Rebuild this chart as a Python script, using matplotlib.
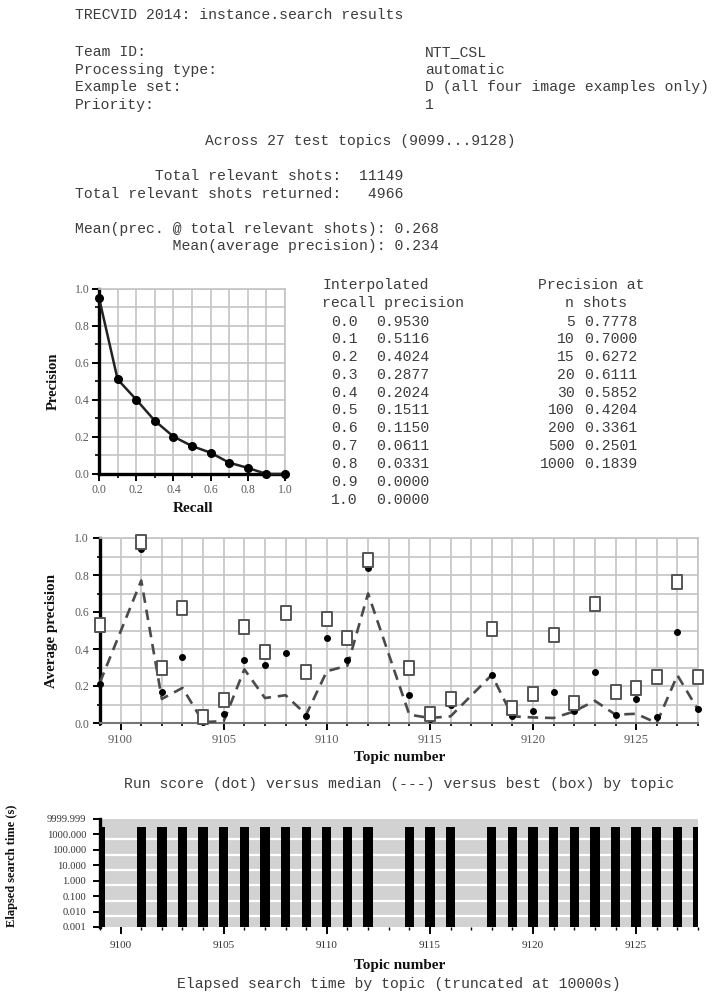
import matplotlib
matplotlib.use('Agg')
import matplotlib.pyplot as plt
from matplotlib.ticker import MultipleLocator, FixedLocator, FuncFormatter
from matplotlib.path import Path

# ---------------- data ----------------
header_labels = ["Team ID:", "Processing type:", "Example set:", "Priority:"]
header_values = ["NTT_CSL", "automatic", "D (all four image examples only)", "1"]

recall_levels = [0.0, 0.1, 0.2, 0.3, 0.4, 0.5, 0.6, 0.7, 0.8, 0.9, 1.0]
interp_precision = [0.9530, 0.5116, 0.4024, 0.2877, 0.2024, 0.1511, 0.1150, 0.0611, 0.0331, 0.0000, 0.0000]

n_shots = [5, 10, 15, 20, 30, 100, 200, 500, 1000]
prec_at_n = [0.7778, 0.7000, 0.6272, 0.6111, 0.5852, 0.4204, 0.3361, 0.2501, 0.1839]

topics = [9099, 9101, 9102, 9103, 9104, 9105, 9106, 9107, 9108, 9109, 9110, 9111, 9112,
          9114, 9115, 9116, 9118, 9119, 9120, 9121, 9122, 9123, 9124, 9125, 9126, 9127, 9128]
run_ap = [0.21, 0.94, 0.17, 0.355, 0.005, 0.05, 0.34, 0.315, 0.38, 0.04, 0.46, 0.34, 0.84,
          0.15, 0.023, 0.10, 0.26, 0.036, 0.063, 0.168, 0.063, 0.276, 0.045, 0.13, 0.032, 0.49, 0.077]
median_ap = [0.22, 0.77, 0.13, 0.19, 0.005, 0.01, 0.29, 0.135, 0.15, 0.045, 0.28, 0.31, 0.70,
             0.045, 0.027, 0.036, 0.26, 0.036, 0.03, 0.027, 0.063, 0.12, 0.045, 0.05, 0.0, 0.258, 0.072]
best_ap = [0.53, 0.98, 0.30, 0.62, 0.03, 0.125, 0.52, 0.385, 0.595, 0.275, 0.56, 0.46, 0.88,
           0.30, 0.05, 0.13, 0.51, 0.08, 0.157, 0.477, 0.108, 0.645, 0.17, 0.19, 0.25, 0.762, 0.247]
elapsed_s = [3000, 3000, 3000, 3000, 3000, 3000, 3000, 3000, 3000, 3000, 3000, 3000, 3000,
             3000, 3000, 3000, 3000, 3000, 3000, 3000, 3000, 3000, 3000, 3000, 3000, 3000, 3000]
time_ticks = [0.001, 0.01, 0.1, 1, 10, 100, 1000, 9999.999]

# ---------------- figure ----------------
W, H = 713, 998
fig = plt.figure(figsize=(W / 100, H / 100), dpi=100)
MONO = 'Liberation Mono'
SERIF = 'Liberation Serif'
TXT = '#3c3c3c'
GRID = '#c4c4c4'
FS = 10.6


def mtext(x, y, s, ha='left', **kw):
    fig.text(x / W, 1 - y / H, s, family=MONO, fontsize=FS, color=TXT, va='center', ha=ha, **kw)


def ax_at(left, top, right, bottom):
    return fig.add_axes([left / W, 1 - bottom / H, (right - left) / W, (bottom - top) / H])


# header
mtext(75, 15, "TRECVID 2014: instance.search results")
y0 = 52
for i, (lab, val) in enumerate(zip(header_labels, header_values)):
    mtext(75, y0 + i * 17.7, lab)
    mtext(425, y0 + i * 17.7, val)
mtext(205, 141, "Across 27 test topics (9099...9128)")
mtext(75, 176, "         Total relevant shots:  11149")
mtext(75, 194, "Total relevant shots returned:   4966")
mtext(75, 229, "Mean(prec. @ total relevant shots): 0.268")
mtext(75, 246, "           Mean(average precision): 0.234")

# tables
mtext(322, 285, "Interpolated")
mtext(322, 303, "recall precision")
for i, (r, p) in enumerate(zip(recall_levels, interp_precision)):
    yy = 321.5 + i * 17.8
    mtext(331, yy, f"{r:.1f}")
    mtext(376, yy, f"{p:.4f}")
mtext(538, 285, "Precision at")
mtext(565, 303, "n shots")
for i, (n, p) in enumerate(zip(n_shots, prec_at_n)):
    yy = 321.5 + i * 17.8
    mtext(575, yy, f"{n}", ha='right')
    mtext(584, yy, f"{p:.4f}")


def style_axes(ax, lsize=8.5):
    ax.set_facecolor('white')
    for s in ['top', 'right']:
        ax.spines[s].set_color(GRID)
        ax.spines[s].set_linewidth(1.2)
    ax.spines['left'].set_color('black')
    ax.spines['left'].set_linewidth(2.4)
    ax.tick_params(which='both', direction='out', colors='black', labelcolor='#5a5a5a',
                   labelsize=lsize)
    for lab in ax.get_xticklabels() + ax.get_yticklabels():
        lab.set_family(SERIF)


def label(x, y, s, size, rot=0):
    fig.text(x / W, 1 - y / H, s, family=SERIF, fontweight='bold', fontsize=size,
             rotation=rot, ha='center', va='center', color='#111111')


# ---------------- PR curve ----------------
ax1 = ax_at(99, 289, 285, 474)
ax1.plot(recall_levels, interp_precision, color='#222222', lw=1.8, marker='o', ms=5.5,
         mfc='black', mec='black', clip_on=False, zorder=5)
ax1.set_xlim(0, 1)
ax1.set_ylim(0, 1)
ax1.xaxis.set_major_locator(MultipleLocator(0.2))
ax1.xaxis.set_minor_locator(MultipleLocator(0.1))
ax1.yaxis.set_major_locator(MultipleLocator(0.2))
ax1.yaxis.set_minor_locator(MultipleLocator(0.1))
ax1.xaxis.set_major_formatter(FuncFormatter(lambda v, p: f"{v:.1f}"))
ax1.yaxis.set_major_formatter(FuncFormatter(lambda v, p: f"{v:.1f}"))
ax1.grid(True, which='both', color=GRID, lw=1.2)
ax1.set_axisbelow(True)
style_axes(ax1, 8.5)
ax1.spines['bottom'].set_color('black')
ax1.spines['bottom'].set_linewidth(2.4)
ax1.tick_params(which='major', length=5, width=1.4, pad=2)
ax1.tick_params(which='minor', length=3, width=1.2)
label(53, 381, "Precision", 10.5, 90)
label(193, 509, "Recall", 11)

# ---------------- Average precision by topic ----------------
ax2 = ax_at(100, 538, 698, 723)
ax2.set_xlim(9099, 9128)
ax2.set_ylim(0, 1)
ax2.xaxis.set_major_locator(FixedLocator([9100, 9105, 9110, 9115, 9120, 9125]))
ax2.xaxis.set_minor_locator(MultipleLocator(1))
ax2.yaxis.set_major_locator(MultipleLocator(0.2))
ax2.yaxis.set_minor_locator(MultipleLocator(0.1))
ax2.yaxis.set_major_formatter(FuncFormatter(lambda v, p: f"{v:.1f}"))
ax2.grid(True, which='both', color=GRID, lw=1.2)
ax2.set_axisbelow(True)
style_axes(ax2, 8.5)
ax2.tick_params(axis='x', labelsize=9)
ax2.spines['bottom'].set_color('#777777')
ax2.spines['bottom'].set_linewidth(1.5)
ax2.tick_params(which='major', length=5, width=1.4, pad=3)
ax2.tick_params(which='minor', length=2.5, width=1.2)
ax2.plot(topics, median_ap, color='#4a4a4a', lw=1.9, ls=(0, (4, 2.6)), zorder=3, clip_on=False)
ax2.plot(topics, run_ap, ls='none', marker='o', ms=4, mfc='black', mec='black', zorder=4,
         clip_on=False)
box = Path([(-0.38, -0.5), (0.38, -0.5), (0.38, 0.5), (-0.38, 0.5), (-0.38, -0.5)],
           [Path.MOVETO, Path.LINETO, Path.LINETO, Path.LINETO, Path.CLOSEPOLY])
ax2.plot(topics, best_ap, ls='none', marker=box, ms=9.5, mfc='white', mec='#555555', mew=1.4,
         zorder=5, clip_on=False)
label(52, 631, "Average precision", 10.8, 90)
label(400, 757, "Topic number", 11)
mtext(399, 784, "Run score (dot) versus median (---) versus best (box) by topic", ha='center')

# ---------------- Elapsed time ----------------
ax3 = ax_at(100, 819, 698, 927)
ax3.set_facecolor('#d2d2d2')
ax3.set_yscale('log')
ax3.set_ylim(0.001, 9999.999)
ax3.set_xlim(9099, 9128)
for k in range(-3, 4):
    ax3.axhline(0.5 * 10 ** k, color='white', lw=1.6, zorder=1)
ax3.bar(topics, elapsed_s, width=0.45, bottom=0.001, color='black', zorder=3)
ax3.yaxis.set_major_locator(FixedLocator(time_ticks))
ax3.yaxis.set_minor_locator(FixedLocator([]))
ax3.yaxis.set_major_formatter(FuncFormatter(lambda v, p: f"{v:.3f}"))
ax3.xaxis.set_major_locator(FixedLocator([9100, 9105, 9110, 9115, 9120, 9125]))
ax3.xaxis.set_minor_locator(MultipleLocator(1))
for s in ['top', 'right', 'bottom']:
    ax3.spines[s].set_visible(False)
ax3.spines['left'].set_color('black')
ax3.spines['left'].set_linewidth(2.4)
ax3.tick_params(which='both', direction='out', colors='black', labelcolor='#333333',
                labelsize=8)
ax3.tick_params(axis='y', labelsize=7.6)
ax3.tick_params(which='major', length=5, width=1.4, pad=5)
ax3.tick_params(which='minor', length=2, width=1.0)
for lab in ax3.get_xticklabels() + ax3.get_yticklabels():
    lab.set_family(SERIF)
label(12, 866, "Elapsed search time (s)", 9, 90)
label(400, 966, "Topic number", 11)
mtext(399, 984, "Elapsed search time by topic (truncated at 10000s)", ha='center')

fig.savefig('out.png', dpi=100)
